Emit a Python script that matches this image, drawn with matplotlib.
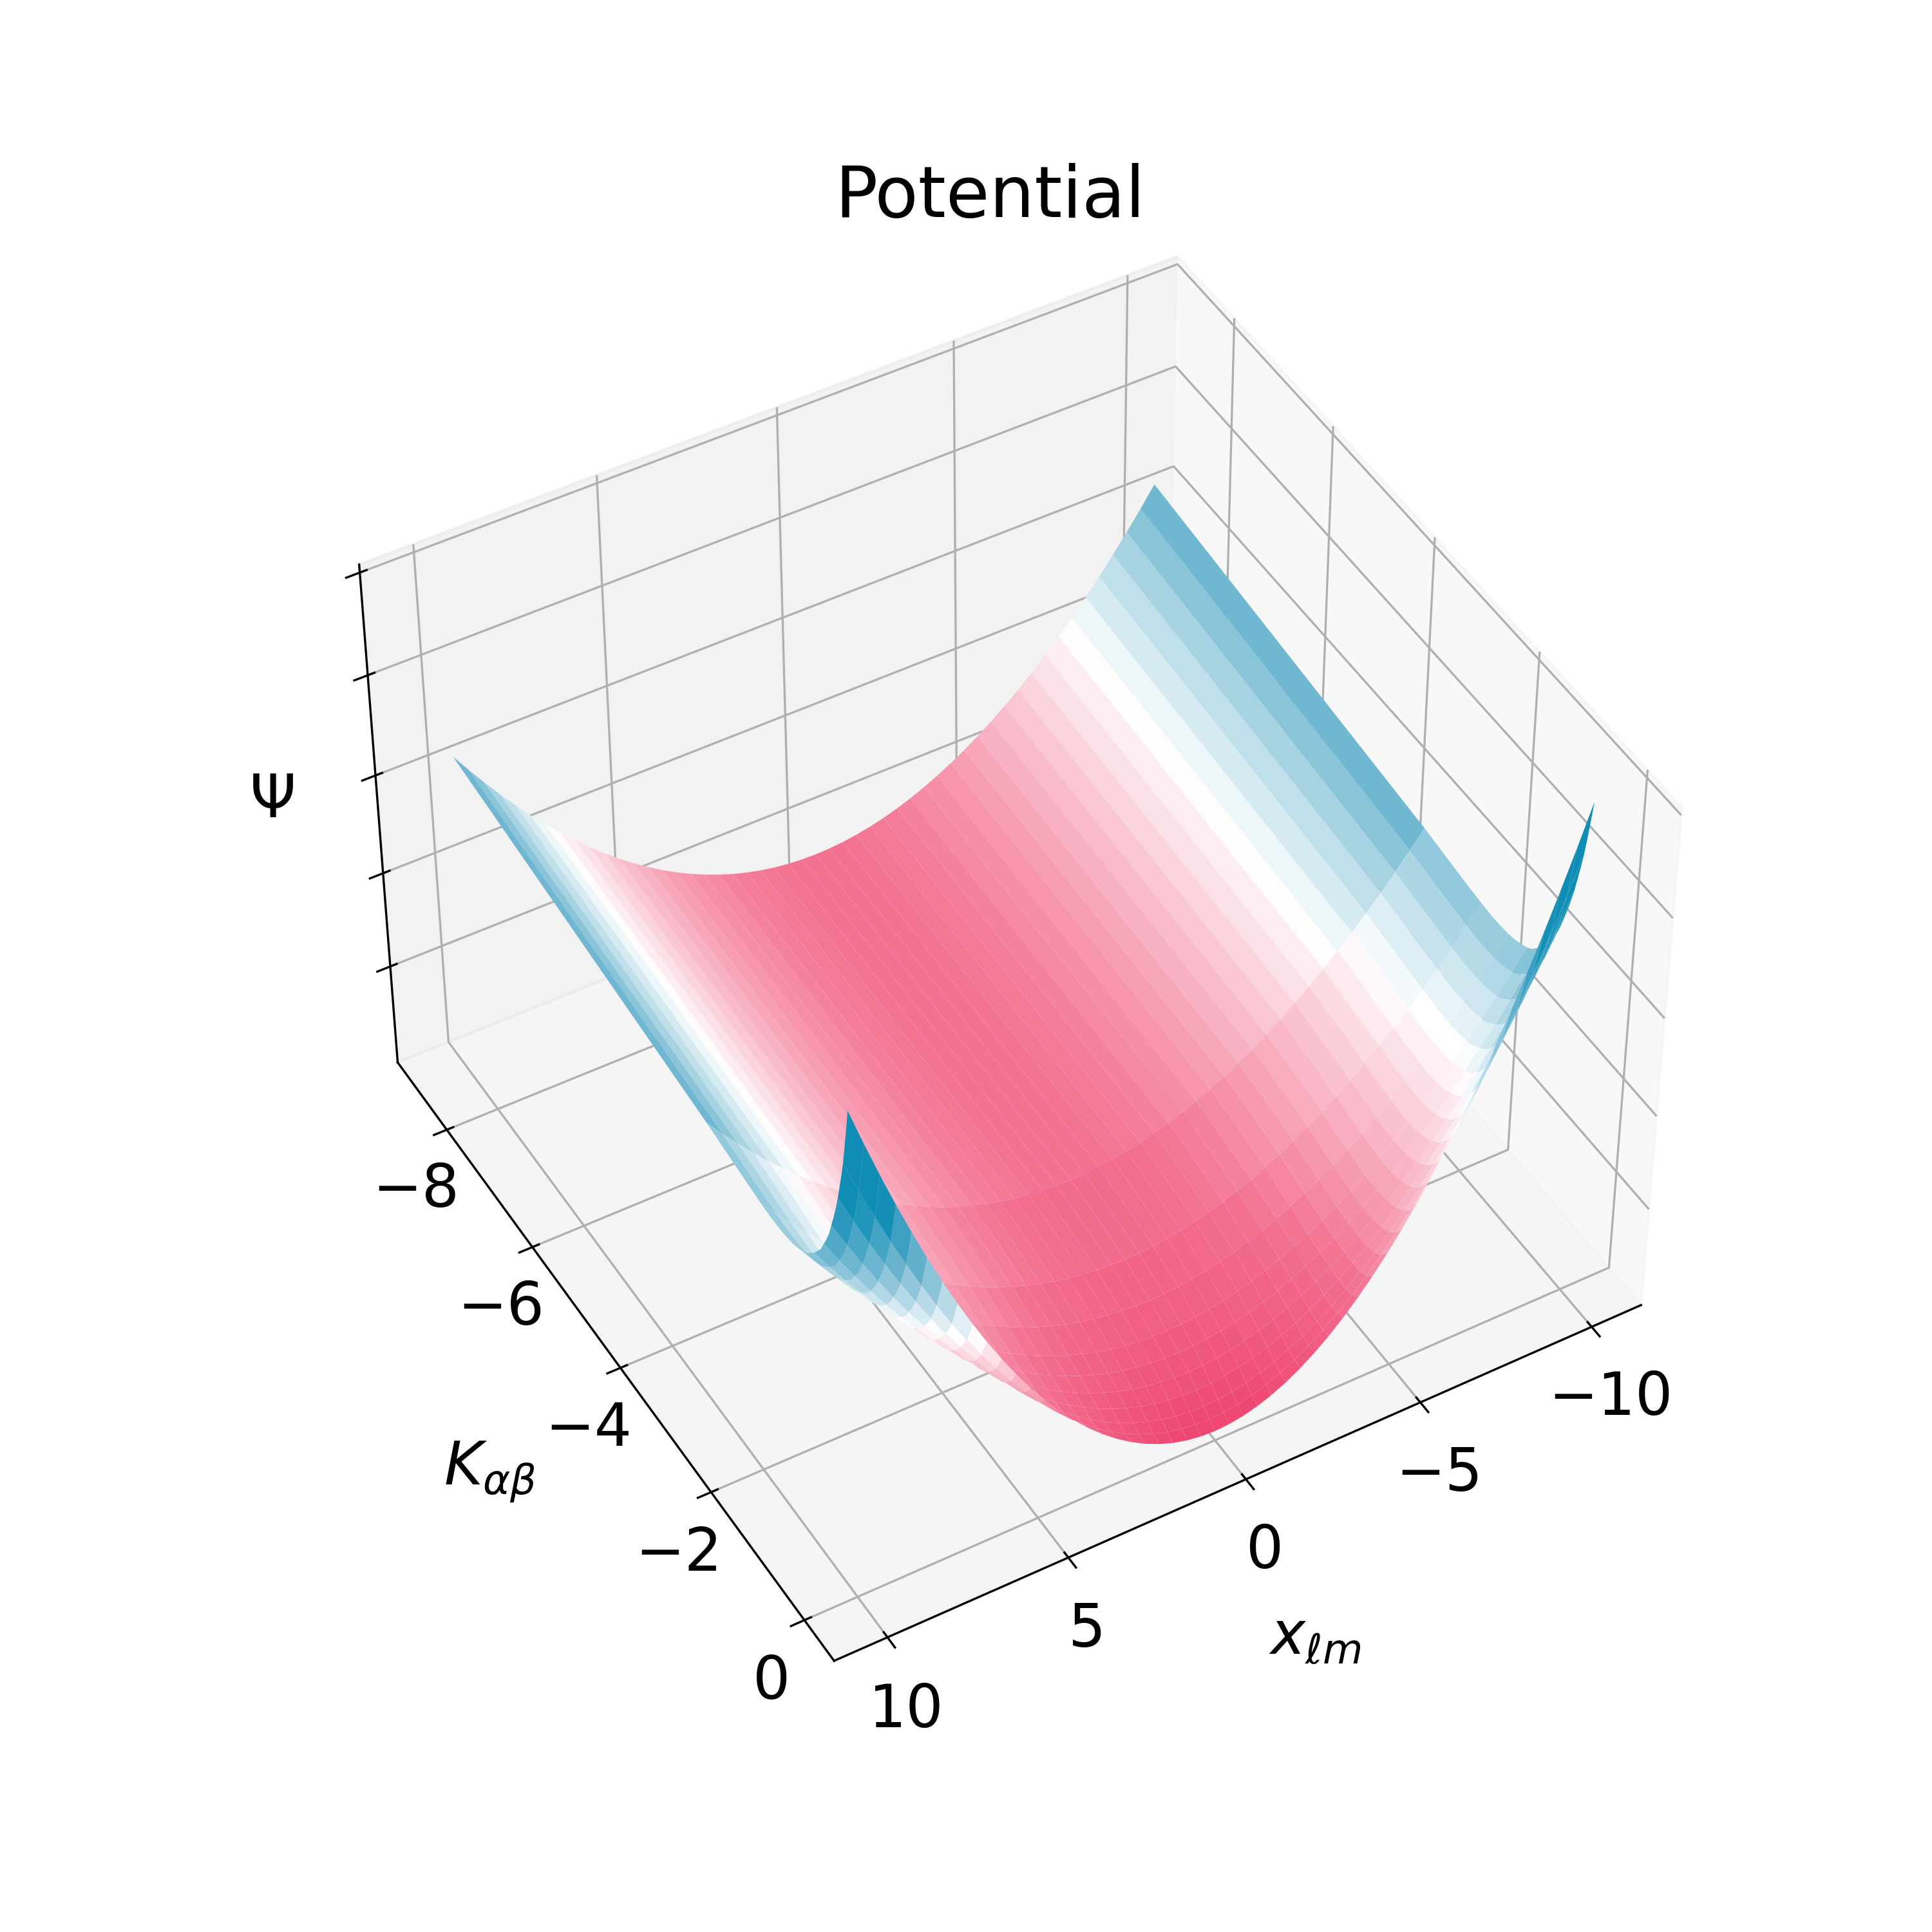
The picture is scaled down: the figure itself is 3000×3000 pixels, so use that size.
import numpy as np
import matplotlib
matplotlib.use("Agg")
import matplotlib.pyplot as plt
from matplotlib.colors import LinearSegmentedColormap

x_values = np.linspace(-10, 10, 51)
K_values = [-8.55, -6.70, -4.85, -3.0, -2.62, -2.25, -1.87, -1.70, -1.52, -1.35, -1.23, -1.12, -1.0,
            -0.92, -0.84, -0.755, -0.69, -0.62, -0.553, -0.50, -0.44, -0.386, -0.337, -0.287, -0.238,
            -0.198, -0.157, -0.117, -0.078, -0.039, 0.0]
floor_by_K = [0.165, 0.16, 0.155, 0.15, 0.143, 0.135, 0.125, 0.118, 0.111, 0.105, 0.098, 0.092, 0.085,
              0.08, 0.075, 0.07, 0.065, 0.06, 0.055, 0.049, 0.044, 0.038, 0.033, 0.027, 0.022,
              0.018, 0.014, 0.01, 0.007, 0.003, 0.0]
edge_by_K = [0.665, 0.64, 0.615, 0.59, 0.583, 0.576, 0.57, 0.568, 0.568, 0.57, 0.573, 0.578, 0.585,
             0.592, 0.603, 0.615, 0.627, 0.64, 0.66, 0.675, 0.695, 0.72, 0.742, 0.767, 0.795,
             0.822, 0.85, 0.88, 0.917, 0.957, 1.0]
half_profile = [1, .9216, .8464, .7744, .7056, .64, .5776, .5184, .4624, .4096, .36, .3136, .2704,
                .2304, .1936, .16, .1296, .1024, .0784, .0576, .04, .0256, .0144, .0064, .0016, 0]
psi_ticks = [0.19, 0.39, 0.595, 0.80, 1.005]
color_levels = [0.0, 0.2016, 0.5455, 0.783, 1.0]
color_stops = ["#ee4570", "#f37090", "#ffffff", "#74b9d2", "#108db5"]

profile = np.array(half_profile + half_profile[-2::-1])
X, K = np.meshgrid(x_values, K_values)
floor = np.array(floor_by_K)[:, None]
edge = np.array(edge_by_K)[:, None]
Z = floor + (edge - floor) * profile[None, :]

cmap = LinearSegmentedColormap.from_list("psi", list(zip(color_levels, color_stops)))
fig = plt.figure(figsize=(10, 10), dpi=300)
ax = fig.add_subplot(projection="3d")
ax.set_position([0.125, 0.1177, 0.775, 0.77])
ax.set_box_aspect(None, zoom=0.98)
ax.plot_surface(X, K, Z, cmap=cmap, vmin=0.0, vmax=0.77, linewidth=0,
                rstride=3, cstride=1)
ax.view_init(elev=45, azim=60)
ax.set_xticks([-10, -5, 0, 5, 10])
ax.set_yticks([-8, -6, -4, -2, 0])
ax.set_zticks(psi_ticks)
ax.set_zticklabels([])
ax.tick_params(labelsize=22)
for axis in (ax.xaxis, ax.yaxis, ax.zaxis):
    axis.set_rotate_label(False)
ax.set_xlabel(r"$x_{\ell m}$", fontsize=22, labelpad=21, rotation=0)
ax.set_ylabel(r"$K_{\alpha\beta}$", fontsize=22, labelpad=22, rotation=0)
ax.set_zlabel(r"$\Psi$", fontsize=22, rotation=0)
ax.set_title("Potential", fontsize=26.4, pad=0, y=1.0)
ax.title.set_y(1.0)
fig.savefig("out.png")
